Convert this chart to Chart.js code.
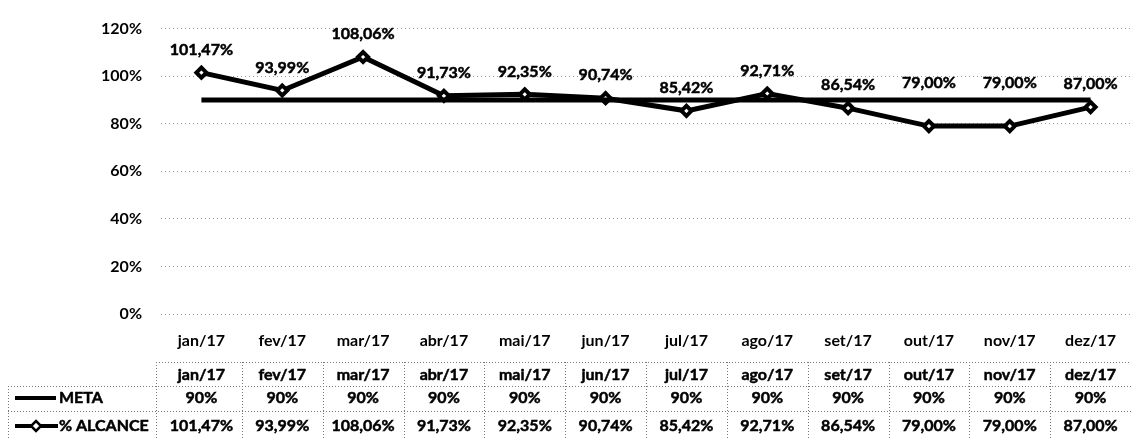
<!DOCTYPE html>
<html>
<head>
<meta charset="utf-8">
<script src="https://cdn.jsdelivr.net/npm/chart.js@4"></script>
<style>
  html, body { margin: 0; padding: 0; background: #fff; overflow: hidden; }
  #wrap { width: 1131px; height: 440px; overflow: hidden; }
</style>
</head>
<body>
<div id="wrap"><canvas id="chart" width="1140" height="440"></canvas></div>
<script>
var months = ["jan/17", "fev/17", "mar/17", "abr/17", "mai/17", "jun/17",
              "jul/17", "ago/17", "set/17", "out/17", "nov/17", "dez/17"];
var meta = [90, 90, 90, 90, 90, 90, 90, 90, 90, 90, 90, 90];
var alcance = [101.47, 93.99, 108.06, 91.73, 92.35, 90.74, 85.42, 92.71, 86.54, 79.00, 79.00, 87.00];
var yTicks = [0, 20, 40, 60, 80, 100, 120];

var FONT = "Lato";

function pct(v) {
  return v.toFixed(2).replace(".", ",") + "%";
}

// heavier text, closer to the scanned look
function boldText(ctx, s, x, y) {
  ctx.fillText(s, x, y);
  ctx.strokeText(s, x, y);
}

// labels above the % ALCANCE points, pushed over the META line when they would hit it
var labelPlugin = {
  id: "pointLabels",
  afterDatasetsDraw: function (chart) {
    var ctx = chart.ctx;
    var pts = chart.getDatasetMeta(1).data;
    var metaPts = chart.getDatasetMeta(0).data;
    ctx.save();
    ctx.font = "bold 16px " + FONT;
    ctx.fillStyle = "#000";
    ctx.strokeStyle = "#000";
    ctx.lineWidth = 0.5;
    ctx.textAlign = "center";
    ctx.textBaseline = "middle";
    for (var i = 0; i < pts.length; i++) {
      var y = pts[i].y - 23;
      var my = metaPts[i].y;
      if (y > my - 10) y = my - 17;
      boldText(ctx, pct(alcance[i]), pts[i].x, y);
    }
    ctx.restore();
  }
};

// data table under the chart, columns taken from the x scale
var tablePlugin = {
  id: "dataTable",
  afterDraw: function (chart) {
    var ctx = chart.ctx;
    var xs = chart.scales.x;
    var n = months.length;
    var w = (xs.right - xs.left) / n;
    var right = xs.right;
    var rowHead = 375, rowMeta = 398, rowAlc = 426;

    ctx.save();
    ctx.strokeStyle = "#777";
    ctx.lineWidth = 1;
    ctx.setLineDash([1, 2]);
    ctx.beginPath();
    ctx.moveTo(xs.left - 5, 362.5); ctx.lineTo(right, 362.5);
    ctx.moveTo(8, 386.5); ctx.lineTo(right, 386.5);
    ctx.moveTo(8, 411.5); ctx.lineTo(right, 411.5);
    for (var i = 0; i <= n; i++) {
      var bx = Math.round(xs.left + i * w - (i === 0 ? 5 : 0)) + 0.5;
      ctx.moveTo(bx, 362); ctx.lineTo(bx, 440);
    }
    ctx.moveTo(8.5, 386); ctx.lineTo(8.5, 440);
    ctx.stroke();
    ctx.setLineDash([]);

    ctx.font = "bold 16px " + FONT;
    ctx.fillStyle = "#000";
    ctx.strokeStyle = "#000";
    ctx.lineWidth = 0.5;
    ctx.textAlign = "center";
    ctx.textBaseline = "middle";
    for (var j = 0; j < n; j++) {
      var cx = xs.getPixelForValue(j);
      boldText(ctx, months[j], cx, rowHead);
      boldText(ctx, meta[j] + "%", cx, rowMeta);
      boldText(ctx, pct(alcance[j]), cx, rowAlc);
    }

    // legend keys
    ctx.lineWidth = 4;
    ctx.beginPath();
    ctx.moveTo(15, rowMeta); ctx.lineTo(56, rowMeta);
    ctx.moveTo(15, rowAlc); ctx.lineTo(58, rowAlc);
    ctx.stroke();
    ctx.lineWidth = 2.5;
    ctx.fillStyle = "#fff";
    ctx.beginPath();
    ctx.moveTo(36, rowAlc - 5); ctx.lineTo(41, rowAlc);
    ctx.lineTo(36, rowAlc + 5); ctx.lineTo(31, rowAlc);
    ctx.closePath();
    ctx.fill(); ctx.stroke();

    ctx.fillStyle = "#000";
    ctx.lineWidth = 0.5;
    ctx.textAlign = "left";
    boldText(ctx, "META", 59, rowMeta);
    boldText(ctx, "% ALCANCE", 59, rowAlc);
    ctx.restore();
  }
};

new Chart(document.getElementById("chart"), {
  type: "line",
  data: {
    labels: months,
    datasets: [
      {
        label: "META",
        data: meta,
        borderColor: "#000",
        borderWidth: 5,
        pointRadius: 0,
        tension: 0
      },
      {
        label: "% ALCANCE",
        data: alcance,
        borderColor: "#000",
        borderWidth: 5,
        pointStyle: "rectRot",
        pointRadius: 5,
        pointBorderWidth: 4,
        pointBackgroundColor: "#fff",
        pointBorderColor: "#000",
        tension: 0
      }
    ]
  },
  options: {
    responsive: false,
    animation: false,
    devicePixelRatio: 1,
    layout: { padding: { left: 0, top: 25, right: 0, bottom: 86 } },
    plugins: {
      legend: { display: false },
      tooltip: { enabled: false }
    },
    scales: {
      x: {
        offset: true,
        grid: { display: false },
        border: { display: false },
        ticks: {
          color: "#000",
          padding: 9,
          maxRotation: 0,
          font: { family: FONT, size: 16, weight: "bold" }
        },
        afterFit: function (s) { s.height = 40; }
      },
      y: {
        min: 0,
        max: 120,
        afterBuildTicks: function (s) {
          s.ticks = yTicks.map(function (v) { return { value: v }; });
        },
        grid: { color: "#999", lineWidth: 1, drawTicks: false },
        border: { display: false, dash: [1, 3] },
        ticks: {
          color: "#000",
          padding: 19,
          font: { family: FONT, size: 16, weight: "bold" },
          callback: function (v) { return v + "%"; }
        },
        afterFit: function (s) { s.width = 161; }
      }
    }
  },
  plugins: [labelPlugin, tablePlugin]
});
</script>
</body>
</html>
